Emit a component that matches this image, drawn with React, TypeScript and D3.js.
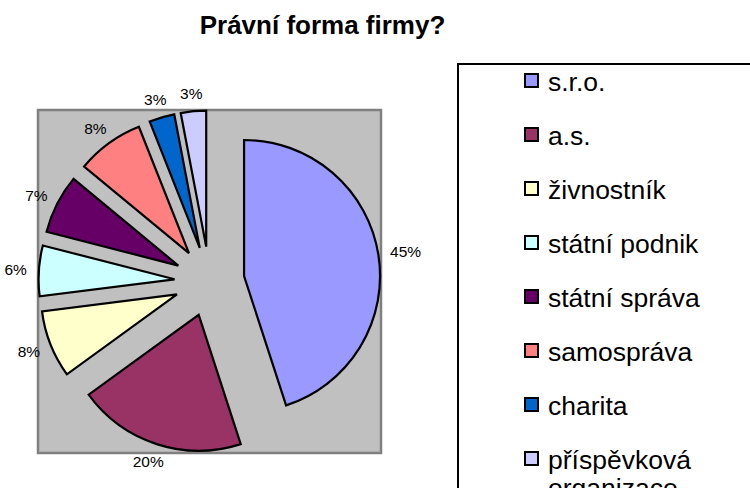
import React from "react";
import * as d3 from "d3";

const categories = [
  "s.r.o.",
  "a.s.",
  "živnostník",
  "státní podnik",
  "státní správa",
  "samospráva",
  "charita",
  "příspěvková organizace",
];
const values = [45, 20, 8, 6, 7, 8, 3, 3];
const colors = ["#9999FF", "#993366", "#FFFFCC", "#CCFFFF", "#660066", "#FF8080", "#0066CC", "#CCCCFF"];
const legendLines = [["s.r.o."], ["a.s."], ["živnostník"], ["státní podnik"], ["státní správa"], ["samospráva"], ["charita"], ["příspěvková", "organizace"]];
const title = "Právní forma firmy?";

const W = 750;
const H = 488;
const FONT = "'Liberation Sans', Arial, Helvetica, sans-serif";

export default function App() {
  const plot = { x: 38, y: 110, w: 343, h: 343 };
  const cx = plot.x + plot.w / 2;
  const cy = plot.y + plot.h / 2;
  const r = 136;
  const explode = 35;
  const total = d3.sum(values);

  const pie = d3.pie<number>().sort(null).value((d) => d).startAngle(0).endAngle(2 * Math.PI);
  const arcs = pie(values);
  const arcGen = d3.arc<d3.PieArcDatum<number>>().innerRadius(0).outerRadius(r);
  const fmt = d3.format(".0%");

  const labelFs = 15.5;
  const legend = { x: 458, y: 64, step: 54, firstBaseline: 91 };

  return (
    <svg width={W} height={H} style={{ position: "absolute", left: 0, top: 0, background: "#fff" }} fontFamily={FONT}>
      <text x={322.5} y={34} textAnchor="middle" fontSize={26} fontWeight="bold" fill="#000">
        {title}
      </text>
      <rect x={plot.x} y={plot.y} width={plot.w} height={plot.h} fill="#C0C0C0" stroke="#808080" strokeWidth={2.5} />
      {arcs.map((a, i) => {
        const mid = (a.startAngle + a.endAngle) / 2;
        const dx = Math.sin(mid);
        const dy = -Math.cos(mid);
        return (
          <path
            key={i}
            d={arcGen(a) || ""}
            transform={`translate(${cx + dx * explode},${cy + dy * explode})`}
            fill={colors[i]}
            stroke="#000"
            strokeWidth={2.2}
            strokeLinejoin="miter"
          />
        );
      })}
      {arcs.map((a, i) => {
        const mid = (a.startAngle + a.endAngle) / 2;
        const dx = Math.sin(mid);
        const dy = -Math.cos(mid);
        const txt = fmt(values[i] / total);
        const w = (txt.length - 1) * 0.556 * labelFs + 0.889 * labelFs;
        const h = labelFs * 0.8;
        const R = r + explode + 12;
        const px = cx + dx * R + (dx * w) / 2;
        const py = cy + dy * R + (dy * h) / 2;
        return (
          <text key={i} x={px} y={py} textAnchor="middle" dominantBaseline="central" fontSize={labelFs} fill="#000">
            {txt}
          </text>
        );
      })}
      <rect x={legend.x} y={legend.y} width={W} height={H} fill="#fff" stroke="#000" strokeWidth={2} />
      {categories.map((c, i) => {
        const base = legend.firstBaseline + i * legend.step;
        return (
          <g key={c}>
            <rect x={525} y={base - 17} width={13} height={13} fill={colors[i]} stroke="#000" strokeWidth={2} />
            <text x={548} y={base} fontSize={26.5} fill="#000">
              {legendLines[i].map((l, j) => (
                <tspan key={j} x={548} y={base + j * 28}>
                  {l}
                </tspan>
              ))}
            </text>
          </g>
        );
      })}
    </svg>
  );
}
